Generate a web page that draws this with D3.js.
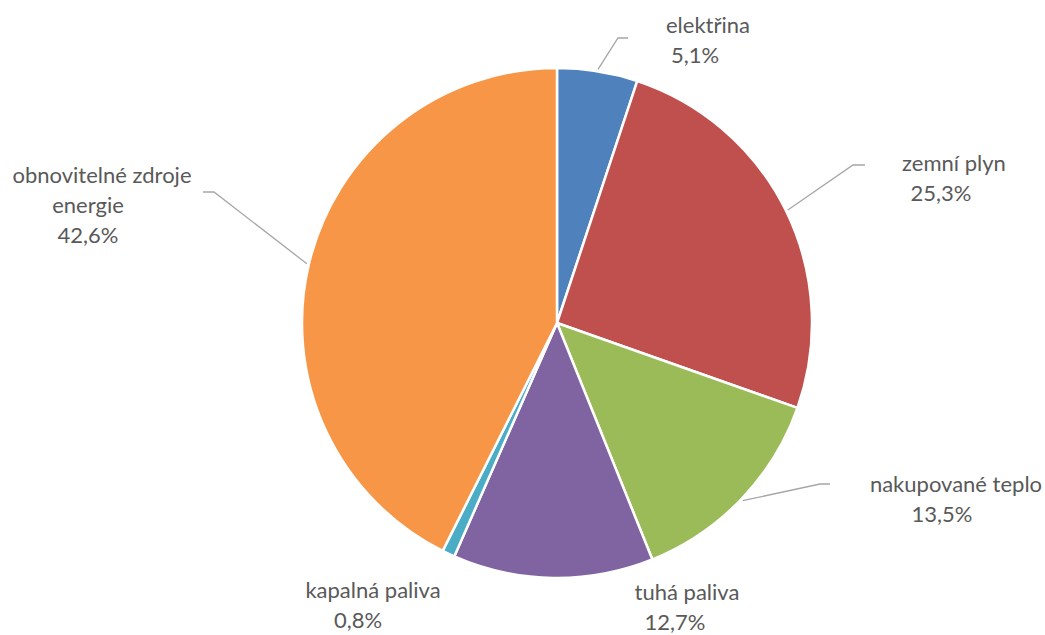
<!DOCTYPE html>
<html>
<head>
<meta charset="utf-8">
<script src="https://cdn.jsdelivr.net/npm/d3@7"></script>
<style>
  html, body { margin: 0; padding: 0; background: #fff; }
  .label { font-family: Lato, "Open Sans", sans-serif; font-size: 22px; fill: #595959; }
</style>
</head>
<body>
<svg id="chart" width="1045" height="635"></svg>
<script>
const categories = ["elektřina", "zemní plyn", "nakupované teplo", "tuhá paliva", "kapalná paliva", "obnovitelné zdroje energie"];
const values = [5.1, 25.3, 13.5, 12.7, 0.8, 42.6];
const valueLabels = ["5,1%", "25,3%", "13,5%", "12,7%", "0,8%", "42,6%"];
const colors = ["#4F81BD", "#C0504D", "#9BBB59", "#8064A2", "#4BACC6", "#F79646"];

// label text lines: name lines, then the percentage
const nameLines = [["elektřina"], ["zemní plyn"], ["nakupované teplo"], ["tuhá paliva"], ["kapalná paliva"], ["obnovitelné zdroje", "energie"]];

let cx = 557, cy = 323, radius = 255;
const lineGap = 30;

// where each label sits (centre x of each line, baseline of first line) and leader elbow
const layout = [
  {x: [708, 695], y: 33, leader: [[618, 38], [628, 38]]},
  {x: [954, 941], y: 171, leader: [[853, 165], [865, 165]]},
  {x: [956, 942], y: 492, leader: [[820, 484], [830, 484]]},
  {x: [687, 675], y: 600, leader: null},
  {x: [373, 358], y: 598, leader: null},
  {x: [102, 88, 88], y: 183, leader: [[214, 192], [203, 192]]}
];

const svg = d3.select("#chart");
const g = svg.append("g").attr("transform", "translate(" + cx + "," + cy + ")");

const pie = d3.pie().sort(null).value(d => d)(values);
const arc = d3.arc().innerRadius(0).outerRadius(radius);

g.selectAll("path.slice")
  .data(pie)
  .enter().append("path")
  .attr("class", "slice")
  .attr("d", arc)
  .attr("fill", (d, i) => colors[i])
  .attr("stroke", "#fff")
  .attr("stroke-width", 2.5)
  .attr("stroke-linejoin", "round");

/* leader lines */
const edgeArc = d3.arc().innerRadius(radius + 2).outerRadius(radius + 2);
pie.forEach(function(d, i) {
  let lay = layout[i];
  if (!lay.leader) return;
  let start = edgeArc.centroid(d);
  let pts = [[cx + start[0], cy + start[1]]].concat(lay.leader);
  svg.append("path")
    .attr("d", d3.line()(pts))
    .attr("fill", "none")
    .attr("stroke", "#a6a6a6")
    .attr("stroke-width", 1.3);
});

/* labels */
pie.forEach(function(d, i) {
  let lay = layout[i];
  let lines = nameLines[i].concat([valueLabels[i]]);
  lines.forEach(function(t, k) {
    svg.append("text")
      .attr("class", "label")
      .attr("x", lay.x[Math.min(k, lay.x.length - 1)])
      .attr("y", lay.y + k * lineGap)
      .attr("text-anchor", "middle")
      .text(t);
  });
});
</script>
</body>
</html>
